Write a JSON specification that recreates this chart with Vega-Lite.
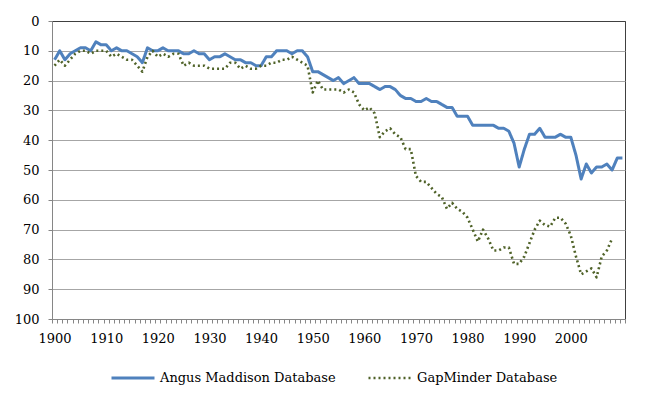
{
  "$schema": "https://vega.github.io/schema/vega-lite/v6.json",
  "width": 573,
  "height": 298,
  "autosize": {"type": "none"},
  "padding": {"left": 52, "top": 21, "right": 35, "bottom": 83},
  "background": "white",
  "config": {
    "view": {"stroke": "#404040", "strokeWidth": 1},
    "font": "DejaVu Serif",
    "legend": {
      "title": null,
      "orient": "none",
      "legendX": 58,
      "legendY": 334,
      "direction": "horizontal",
      "symbolType": "stroke",
      "symbolSize": 1849,
      "labelFont": "DejaVu Serif",
      "labelFontSize": 13,
      "labelColor": "#000000",
      "labelOffset": 4,
      "labelLimit": 0,
      "columnPadding": 27
    }
  },
  "data": {"values": [
    {"s":"Angus Maddison Database","year":1900,"v":13},{"s":"Angus Maddison Database","year":1901,"v":10},{"s":"Angus Maddison Database","year":1902,"v":13},{"s":"Angus Maddison Database","year":1903,"v":11},{"s":"Angus Maddison Database","year":1904,"v":10},{"s":"Angus Maddison Database","year":1905,"v":9},{"s":"Angus Maddison Database","year":1906,"v":9},{"s":"Angus Maddison Database","year":1907,"v":10},{"s":"Angus Maddison Database","year":1908,"v":7},{"s":"Angus Maddison Database","year":1909,"v":8},
    {"s":"Angus Maddison Database","year":1910,"v":8},{"s":"Angus Maddison Database","year":1911,"v":10},{"s":"Angus Maddison Database","year":1912,"v":9},{"s":"Angus Maddison Database","year":1913,"v":10},{"s":"Angus Maddison Database","year":1914,"v":10},{"s":"Angus Maddison Database","year":1915,"v":11},{"s":"Angus Maddison Database","year":1916,"v":12},{"s":"Angus Maddison Database","year":1917,"v":14},{"s":"Angus Maddison Database","year":1918,"v":9},{"s":"Angus Maddison Database","year":1919,"v":10},
    {"s":"Angus Maddison Database","year":1920,"v":10},{"s":"Angus Maddison Database","year":1921,"v":9},{"s":"Angus Maddison Database","year":1922,"v":10},{"s":"Angus Maddison Database","year":1923,"v":10},{"s":"Angus Maddison Database","year":1924,"v":10},{"s":"Angus Maddison Database","year":1925,"v":11},{"s":"Angus Maddison Database","year":1926,"v":11},{"s":"Angus Maddison Database","year":1927,"v":10},{"s":"Angus Maddison Database","year":1928,"v":11},{"s":"Angus Maddison Database","year":1929,"v":11},
    {"s":"Angus Maddison Database","year":1930,"v":13},{"s":"Angus Maddison Database","year":1931,"v":12},{"s":"Angus Maddison Database","year":1932,"v":12},{"s":"Angus Maddison Database","year":1933,"v":11},{"s":"Angus Maddison Database","year":1934,"v":12},{"s":"Angus Maddison Database","year":1935,"v":13},{"s":"Angus Maddison Database","year":1936,"v":13},{"s":"Angus Maddison Database","year":1937,"v":14},{"s":"Angus Maddison Database","year":1938,"v":14},{"s":"Angus Maddison Database","year":1939,"v":15},
    {"s":"Angus Maddison Database","year":1940,"v":15},{"s":"Angus Maddison Database","year":1941,"v":12},{"s":"Angus Maddison Database","year":1942,"v":12},{"s":"Angus Maddison Database","year":1943,"v":10},{"s":"Angus Maddison Database","year":1944,"v":10},{"s":"Angus Maddison Database","year":1945,"v":10},{"s":"Angus Maddison Database","year":1946,"v":11},{"s":"Angus Maddison Database","year":1947,"v":10},{"s":"Angus Maddison Database","year":1948,"v":10},{"s":"Angus Maddison Database","year":1949,"v":12},
    {"s":"Angus Maddison Database","year":1950,"v":17},{"s":"Angus Maddison Database","year":1951,"v":17},{"s":"Angus Maddison Database","year":1952,"v":18},{"s":"Angus Maddison Database","year":1953,"v":19},{"s":"Angus Maddison Database","year":1954,"v":20},{"s":"Angus Maddison Database","year":1955,"v":19},{"s":"Angus Maddison Database","year":1956,"v":21},{"s":"Angus Maddison Database","year":1957,"v":20},{"s":"Angus Maddison Database","year":1958,"v":19},{"s":"Angus Maddison Database","year":1959,"v":21},
    {"s":"Angus Maddison Database","year":1960,"v":21},{"s":"Angus Maddison Database","year":1961,"v":21},{"s":"Angus Maddison Database","year":1962,"v":22},{"s":"Angus Maddison Database","year":1963,"v":23},{"s":"Angus Maddison Database","year":1964,"v":22},{"s":"Angus Maddison Database","year":1965,"v":22},{"s":"Angus Maddison Database","year":1966,"v":23},{"s":"Angus Maddison Database","year":1967,"v":25},{"s":"Angus Maddison Database","year":1968,"v":26},{"s":"Angus Maddison Database","year":1969,"v":26},
    {"s":"Angus Maddison Database","year":1970,"v":27},{"s":"Angus Maddison Database","year":1971,"v":27},{"s":"Angus Maddison Database","year":1972,"v":26},{"s":"Angus Maddison Database","year":1973,"v":27},{"s":"Angus Maddison Database","year":1974,"v":27},{"s":"Angus Maddison Database","year":1975,"v":28},{"s":"Angus Maddison Database","year":1976,"v":29},{"s":"Angus Maddison Database","year":1977,"v":29},{"s":"Angus Maddison Database","year":1978,"v":32},{"s":"Angus Maddison Database","year":1979,"v":32},
    {"s":"Angus Maddison Database","year":1980,"v":32},{"s":"Angus Maddison Database","year":1981,"v":35},{"s":"Angus Maddison Database","year":1982,"v":35},{"s":"Angus Maddison Database","year":1983,"v":35},{"s":"Angus Maddison Database","year":1984,"v":35},{"s":"Angus Maddison Database","year":1985,"v":35},{"s":"Angus Maddison Database","year":1986,"v":36},{"s":"Angus Maddison Database","year":1987,"v":36},{"s":"Angus Maddison Database","year":1988,"v":37},{"s":"Angus Maddison Database","year":1989,"v":41},
    {"s":"Angus Maddison Database","year":1990,"v":49},{"s":"Angus Maddison Database","year":1991,"v":43},{"s":"Angus Maddison Database","year":1992,"v":38},{"s":"Angus Maddison Database","year":1993,"v":38},{"s":"Angus Maddison Database","year":1994,"v":36},{"s":"Angus Maddison Database","year":1995,"v":39},{"s":"Angus Maddison Database","year":1996,"v":39},{"s":"Angus Maddison Database","year":1997,"v":39},{"s":"Angus Maddison Database","year":1998,"v":38},{"s":"Angus Maddison Database","year":1999,"v":39},
    {"s":"Angus Maddison Database","year":2000,"v":39},{"s":"Angus Maddison Database","year":2001,"v":45},{"s":"Angus Maddison Database","year":2002,"v":53},{"s":"Angus Maddison Database","year":2003,"v":48},{"s":"Angus Maddison Database","year":2004,"v":51},{"s":"Angus Maddison Database","year":2005,"v":49},{"s":"Angus Maddison Database","year":2006,"v":49},{"s":"Angus Maddison Database","year":2007,"v":48},{"s":"Angus Maddison Database","year":2008,"v":50},{"s":"Angus Maddison Database","year":2009,"v":46},
    {"s":"Angus Maddison Database","year":2010,"v":46},
    {"s":"GapMinder Database","year":1900,"v":15},{"s":"GapMinder Database","year":1901,"v":13},{"s":"GapMinder Database","year":1902,"v":15},{"s":"GapMinder Database","year":1903,"v":13},{"s":"GapMinder Database","year":1904,"v":11},{"s":"GapMinder Database","year":1905,"v":10},{"s":"GapMinder Database","year":1906,"v":10},{"s":"GapMinder Database","year":1907,"v":11},{"s":"GapMinder Database","year":1908,"v":10},{"s":"GapMinder Database","year":1909,"v":10},
    {"s":"GapMinder Database","year":1910,"v":10},{"s":"GapMinder Database","year":1911,"v":12},{"s":"GapMinder Database","year":1912,"v":11},{"s":"GapMinder Database","year":1913,"v":12},{"s":"GapMinder Database","year":1914,"v":13},{"s":"GapMinder Database","year":1915,"v":13},{"s":"GapMinder Database","year":1916,"v":15},{"s":"GapMinder Database","year":1917,"v":17},{"s":"GapMinder Database","year":1918,"v":12},{"s":"GapMinder Database","year":1919,"v":10},
    {"s":"GapMinder Database","year":1920,"v":12},{"s":"GapMinder Database","year":1921,"v":11},{"s":"GapMinder Database","year":1922,"v":12},{"s":"GapMinder Database","year":1923,"v":11},{"s":"GapMinder Database","year":1924,"v":11},{"s":"GapMinder Database","year":1925,"v":15},{"s":"GapMinder Database","year":1926,"v":14},{"s":"GapMinder Database","year":1927,"v":15},{"s":"GapMinder Database","year":1928,"v":15},{"s":"GapMinder Database","year":1929,"v":15},
    {"s":"GapMinder Database","year":1930,"v":16},{"s":"GapMinder Database","year":1931,"v":16},{"s":"GapMinder Database","year":1932,"v":16},{"s":"GapMinder Database","year":1933,"v":16},{"s":"GapMinder Database","year":1934,"v":14},{"s":"GapMinder Database","year":1935,"v":14},{"s":"GapMinder Database","year":1936,"v":16},{"s":"GapMinder Database","year":1937,"v":15},{"s":"GapMinder Database","year":1938,"v":16},{"s":"GapMinder Database","year":1939,"v":16},
    {"s":"GapMinder Database","year":1940,"v":15},{"s":"GapMinder Database","year":1941,"v":15},{"s":"GapMinder Database","year":1942,"v":14},{"s":"GapMinder Database","year":1943,"v":14},{"s":"GapMinder Database","year":1944,"v":13},{"s":"GapMinder Database","year":1945,"v":13},{"s":"GapMinder Database","year":1946,"v":12},{"s":"GapMinder Database","year":1947,"v":13},{"s":"GapMinder Database","year":1948,"v":14},{"s":"GapMinder Database","year":1949,"v":15},
    {"s":"GapMinder Database","year":1950,"v":24},{"s":"GapMinder Database","year":1951,"v":20},{"s":"GapMinder Database","year":1952,"v":23},{"s":"GapMinder Database","year":1953,"v":23},{"s":"GapMinder Database","year":1954,"v":23},{"s":"GapMinder Database","year":1955,"v":23},{"s":"GapMinder Database","year":1956,"v":24},{"s":"GapMinder Database","year":1957,"v":23},{"s":"GapMinder Database","year":1958,"v":24},{"s":"GapMinder Database","year":1959,"v":28},
    {"s":"GapMinder Database","year":1960,"v":30},{"s":"GapMinder Database","year":1961,"v":29},{"s":"GapMinder Database","year":1962,"v":31},{"s":"GapMinder Database","year":1963,"v":39},{"s":"GapMinder Database","year":1964,"v":37},{"s":"GapMinder Database","year":1965,"v":36},{"s":"GapMinder Database","year":1966,"v":38},{"s":"GapMinder Database","year":1967,"v":39},{"s":"GapMinder Database","year":1968,"v":43},{"s":"GapMinder Database","year":1969,"v":43},
    {"s":"GapMinder Database","year":1970,"v":52},{"s":"GapMinder Database","year":1971,"v":54},{"s":"GapMinder Database","year":1972,"v":54},{"s":"GapMinder Database","year":1973,"v":56},{"s":"GapMinder Database","year":1974,"v":58},{"s":"GapMinder Database","year":1975,"v":59},{"s":"GapMinder Database","year":1976,"v":63},{"s":"GapMinder Database","year":1977,"v":61},{"s":"GapMinder Database","year":1978,"v":63},{"s":"GapMinder Database","year":1979,"v":64},
    {"s":"GapMinder Database","year":1980,"v":66},{"s":"GapMinder Database","year":1981,"v":70},{"s":"GapMinder Database","year":1982,"v":74},{"s":"GapMinder Database","year":1983,"v":70},{"s":"GapMinder Database","year":1984,"v":73},{"s":"GapMinder Database","year":1985,"v":77},{"s":"GapMinder Database","year":1986,"v":77},{"s":"GapMinder Database","year":1987,"v":76},{"s":"GapMinder Database","year":1988,"v":76},{"s":"GapMinder Database","year":1989,"v":81.5},
    {"s":"GapMinder Database","year":1990,"v":81.5},{"s":"GapMinder Database","year":1991,"v":79},{"s":"GapMinder Database","year":1992,"v":74.5},{"s":"GapMinder Database","year":1993,"v":70},{"s":"GapMinder Database","year":1994,"v":67},{"s":"GapMinder Database","year":1995,"v":68.5},{"s":"GapMinder Database","year":1996,"v":69},{"s":"GapMinder Database","year":1997,"v":66},{"s":"GapMinder Database","year":1998,"v":66},{"s":"GapMinder Database","year":1999,"v":68},
    {"s":"GapMinder Database","year":2000,"v":72},{"s":"GapMinder Database","year":2001,"v":79},{"s":"GapMinder Database","year":2002,"v":85},{"s":"GapMinder Database","year":2003,"v":84},{"s":"GapMinder Database","year":2004,"v":83},{"s":"GapMinder Database","year":2005,"v":86},{"s":"GapMinder Database","year":2006,"v":79},{"s":"GapMinder Database","year":2007,"v":77},{"s":"GapMinder Database","year":2008,"v":73}
  ]},
  "mark": {"type": "line", "strokeJoin": "round"},
  "encoding": {
    "x": {
      "field": "year", "type": "quantitative",
      "scale": {"domain": [1899.5, 2010.5], "nice": false, "zero": false},
      "axis": {
        "title": null,
        "values": [1899.5,1900.5,1901.5,1902.5,1903.5,1904.5,1905.5,1906.5,1907.5,1908.5,1909.5,1910.5,1911.5,1912.5,1913.5,1914.5,1915.5,1916.5,1917.5,1918.5,1919.5,1920.5,1921.5,1922.5,1923.5,1924.5,1925.5,1926.5,1927.5,1928.5,1929.5,1930.5,1931.5,1932.5,1933.5,1934.5,1935.5,1936.5,1937.5,1938.5,1939.5,1940.5,1941.5,1942.5,1943.5,1944.5,1945.5,1946.5,1947.5,1948.5,1949.5,1950.5,1951.5,1952.5,1953.5,1954.5,1955.5,1956.5,1957.5,1958.5,1959.5,1960.5,1961.5,1962.5,1963.5,1964.5,1965.5,1966.5,1967.5,1968.5,1969.5,1970.5,1971.5,1972.5,1973.5,1974.5,1975.5,1976.5,1977.5,1978.5,1979.5,1980.5,1981.5,1982.5,1983.5,1984.5,1985.5,1986.5,1987.5,1988.5,1989.5,1990.5,1991.5,1992.5,1993.5,1994.5,1995.5,1996.5,1997.5,1998.5,1999.5,2000.5,2001.5,2002.5,2003.5,2004.5,2005.5,2006.5,2007.5,2008.5,2009.5,2010.5],
        "labelExpr": "(datum.value % 10 == 9.5 && datum.value < 2005) ? format(datum.value + 0.5, 'd') : ''",
        "labelOffset": 2.6,
        "labelFlush": false,
        "labelOverlap": false,
        "labelBound": false,
        "labelFont": "DejaVu Serif",
        "labelFontSize": 13,
        "labelColor": "#000000",
        "labelPadding": 9,
        "tickSize": 4,
        "tickColor": "#868686",
        "domainColor": "#868686",
        "grid": false
      }
    },
    "y": {
      "field": "v", "type": "quantitative",
      "scale": {"domain": [0, 100], "reverse": true, "nice": false},
      "axis": {
        "title": null,
        "values": [0,10,20,30,40,50,60,70,80,90,100],
        "grid": true,
        "gridColor": {"condition": {"test": "datum.value == 0", "value": "#404040"}, "value": "#a6a6a6"},
        "gridWidth": 1,
        "labelFont": "DejaVu Serif",
        "labelFontSize": 13,
        "labelColor": "#000000",
        "labelPadding": 9,
        "tickSize": 4,
        "tickColor": "#868686",
        "domainColor": "#868686"
      }
    },
    "color": {
      "field": "s", "type": "nominal",
      "scale": {"domain": ["Angus Maddison Database", "GapMinder Database"], "range": ["#4F81BD", "#4F6228"]},
      "legend": {}
    },
    "strokeDash": {
      "field": "s", "type": "nominal",
      "scale": {"domain": ["Angus Maddison Database", "GapMinder Database"], "range": [[1, 0], [2, 3]]},
      "legend": {}
    },
    "strokeWidth": {
      "field": "s", "type": "nominal",
      "scale": {"domain": ["Angus Maddison Database", "GapMinder Database"], "range": [3, 2.6]},
      "legend": {}
    }
  }
}
